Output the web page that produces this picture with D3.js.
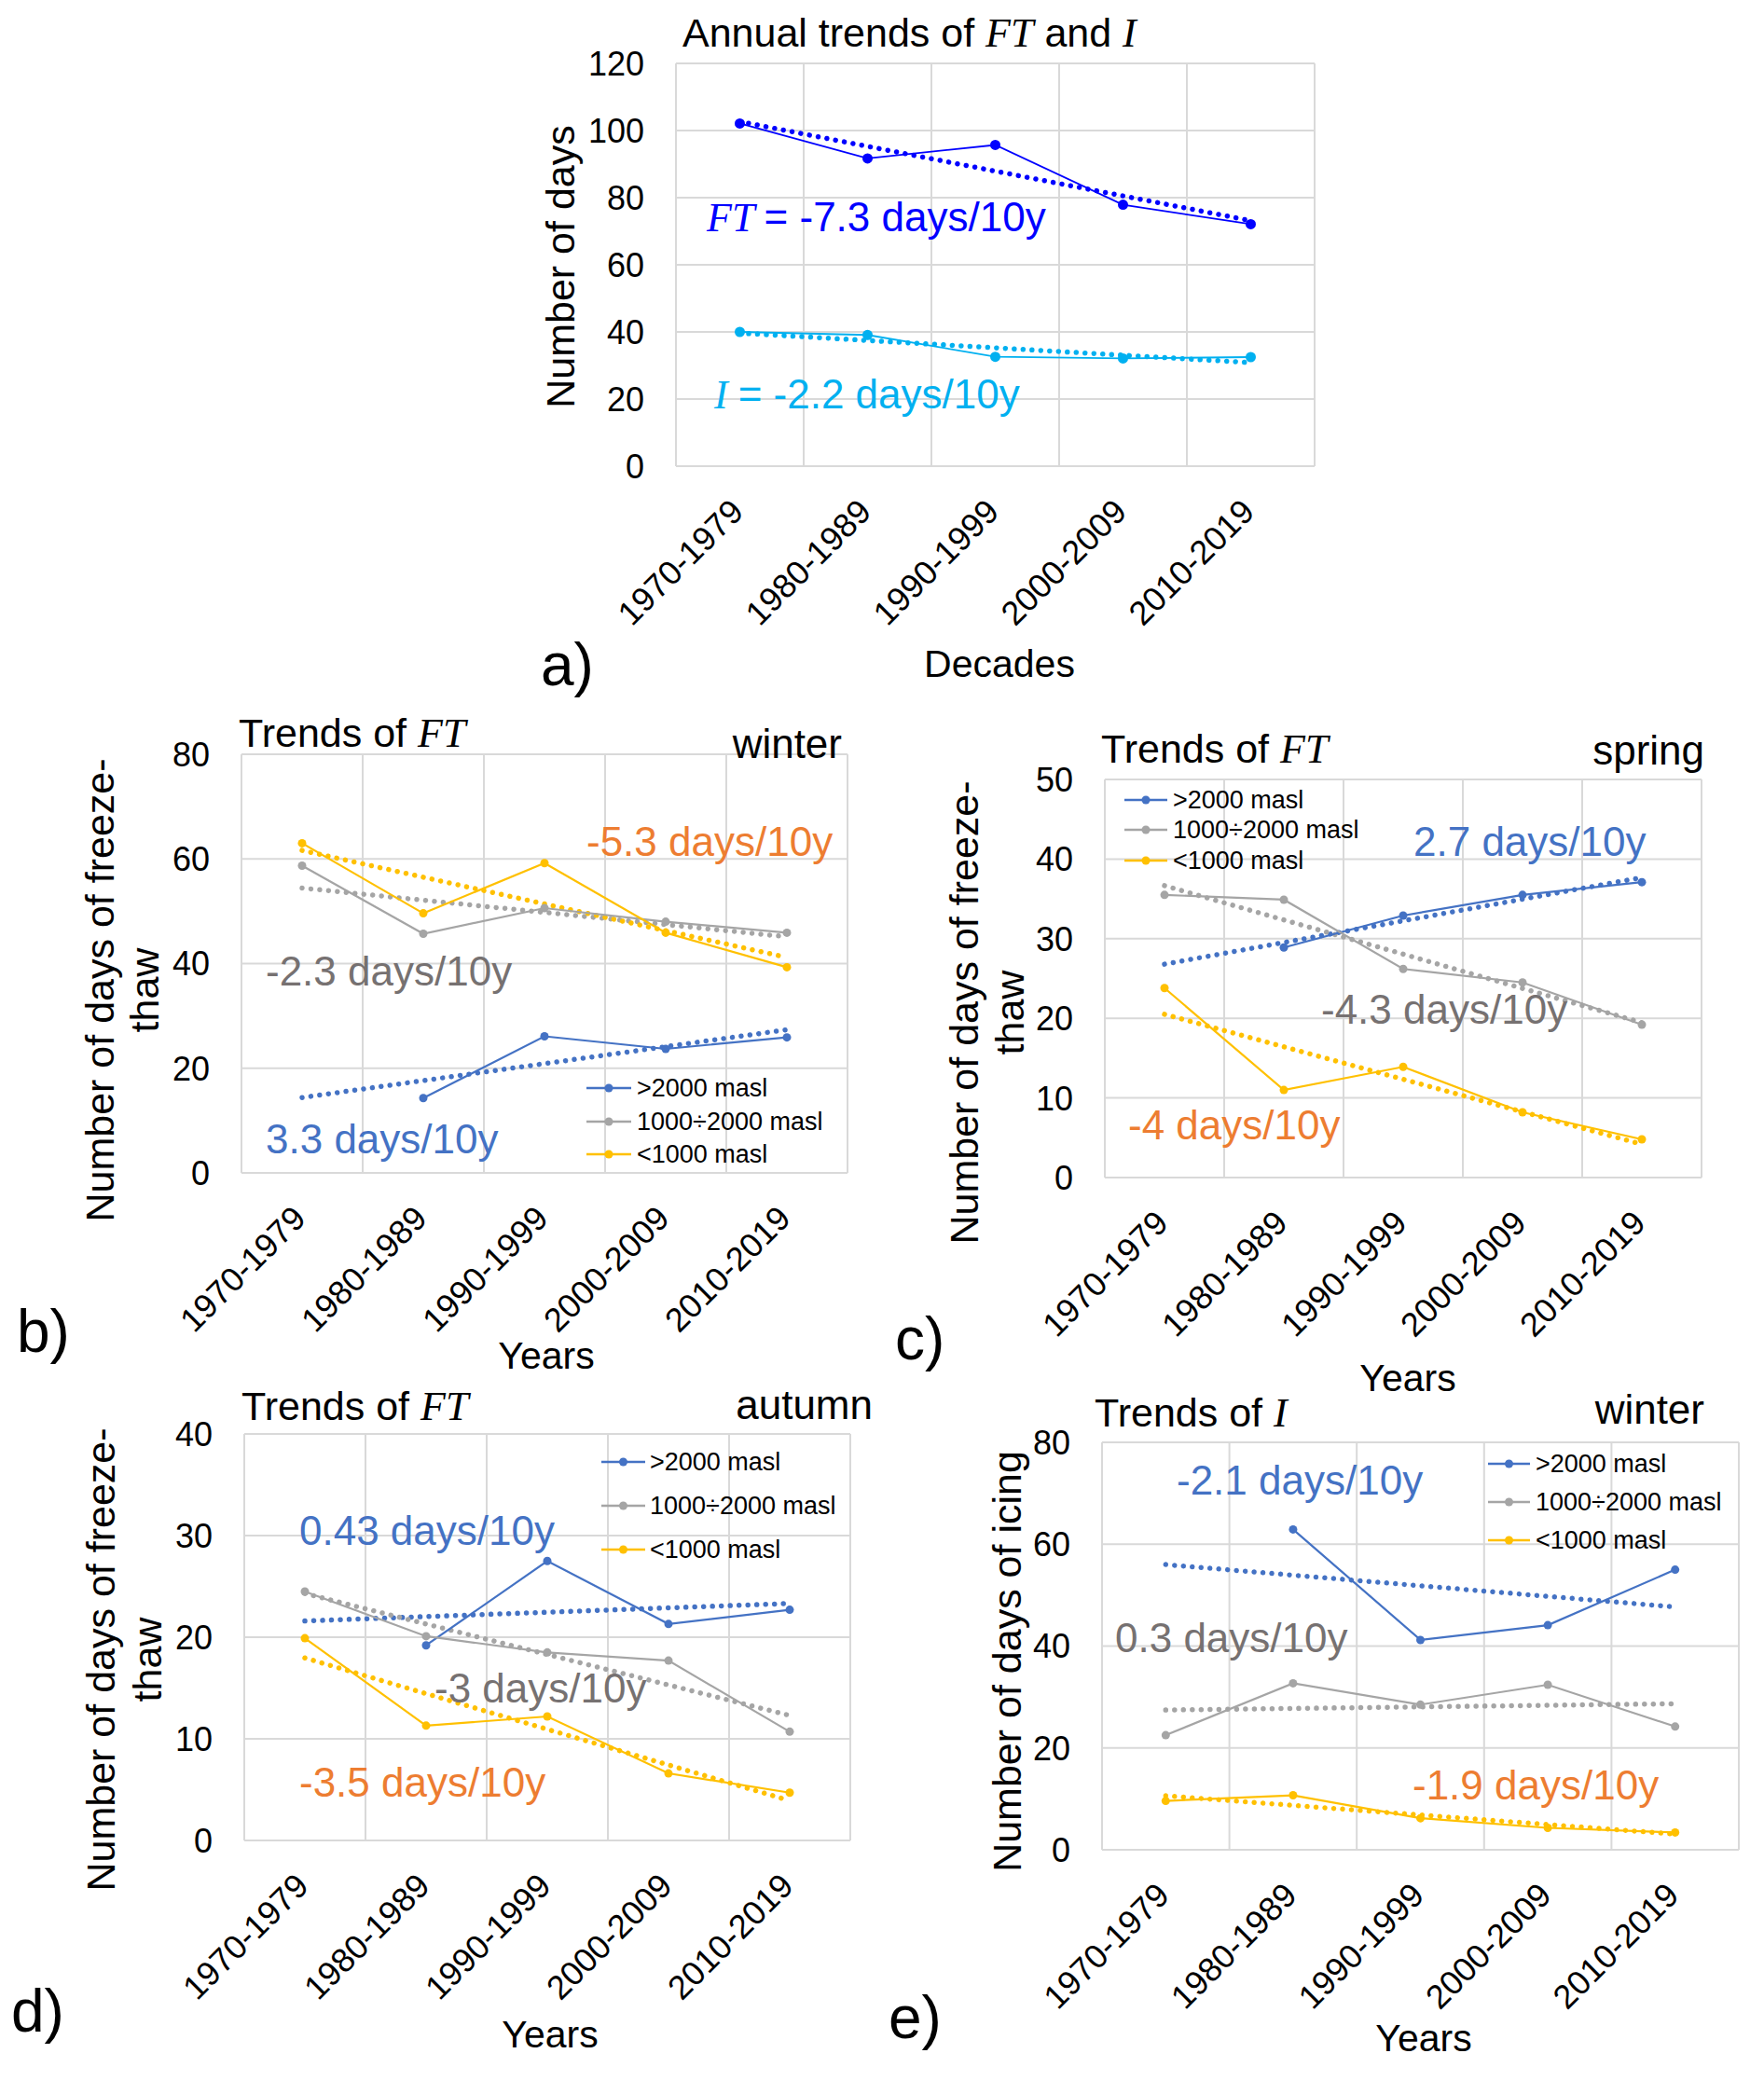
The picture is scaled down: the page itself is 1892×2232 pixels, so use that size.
<!DOCTYPE html>
<meta charset="utf-8">
<title>Trends of FT and I</title>
<style>
  body { margin: 0; background: #fff; }
  text { font-family: "Liberation Sans", Arial, sans-serif; fill: #000; }
  .it { font-family: "Liberation Serif", "Times New Roman", serif; font-style: italic; }
</style>
<body>
<script src="https://cdn.jsdelivr.net/npm/d3@7/dist/d3.min.js"></script>
<script>

// ---- data ----
var decades = ['1970-1979', '1980-1989', '1990-1999', '2000-2009', '2010-2019'];
var bands = ['>2000 masl', '1000\u00f72000 masl', '<1000 masl'];

// a) annual
var annualFT = [102.1, 91.7, 95.7, 77.9, 72.1];
var annualI  = [40.0, 39.1, 32.6, 32.1, 32.5];

// b) FT winter
var winterFT_high = [null, 14.3, 26.1, 23.7, 25.9];
var winterFT_mid  = [58.7, 45.7, 50.6, 48.0, 45.9];
var winterFT_low  = [63.0, 49.6, 59.2, 45.9, 39.3];

// c) FT spring
var springFT_high = [null, 28.9, 32.9, 35.5, 37.1];
var springFT_mid  = [35.5, 34.9, 26.2, 24.5, 19.2];
var springFT_low  = [23.8, 11.0, 13.9, 8.2, 4.8];

// d) FT autumn
var autumnFT_high = [null, 19.2, 27.5, 21.3, 22.7];
var autumnFT_mid  = [24.5, 20.1, 18.5, 17.7, 10.7];
var autumnFT_low  = [19.9, 11.3, 12.2, 6.6, 4.7];

// e) I winter
var winterI_high = [null, 62.9, 41.2, 44.1, 55.0];
var winterI_mid  = [22.5, 32.7, 28.5, 32.4, 24.2];
var winterI_low  = [9.6, 10.7, 6.2, 4.3, 3.4];

var trendTexts = {
  a: ['= -7.3 days/10y', '= -2.2 days/10y'],
  b: ['3.3 days/10y', '-2.3 days/10y', '-5.3 days/10y'],
  c: ['2.7 days/10y', '-4.3 days/10y', '-4 days/10y'],
  d: ['0.43 days/10y', '-3 days/10y', '-3.5 days/10y'],
  e: ['-2.1 days/10y', '0.3 days/10y', '-1.9 days/10y']
};

var BLUE = '#4472C4', GRAY = '#A5A5A5', YEL = '#FFC000';
var TXT_GRAY = '#767171', TXT_ORANGE = '#ED7D31';

var svg = d3.select('body').append('svg')
  .attr('width', 1892).attr('height', 2232)
  .style('background', '#fff');

// least squares over the defined points, evaluated at every decade
function fit(vals) {
  var pts = vals.map(function(v, i) { return [i, v]; }).filter(function(p) { return p[1] != null; });
  var mx = d3.mean(pts, function(p) { return p[0]; }), my = d3.mean(pts, function(p) { return p[1]; });
  var num = d3.sum(pts, function(p) { return (p[0] - mx) * (p[1] - my); });
  var den = d3.sum(pts, function(p) { return (p[0] - mx) * (p[0] - mx); });
  var b = num / den;
  return vals.map(function(v, i) { return my + b * (i - mx); });
}

function panel(p) {
  var g = svg.append('g');
  var x = d3.scaleBand().domain(decades).range([p.x0, p.x1]);
  var y = d3.scaleLinear().domain([0, p.yMax]).range([p.y1, p.y0]);
  var cx = function(i) { return x(decades[i]) + x.bandwidth() / 2; };
  var ticks = d3.range(0, p.yMax + 0.001, p.step);

  // grid
  g.selectAll('.hg').data(ticks).enter().append('line')
    .attr('x1', p.x0).attr('x2', p.x1)
    .attr('y1', function(d) { return y(d); }).attr('y2', function(d) { return y(d); })
    .attr('stroke', '#d9d9d9').attr('stroke-width', 2);
  g.selectAll('.vg').data(decades.map(function(d) { return x(d); }).concat([p.x1])).enter().append('line')
    .attr('x1', function(d) { return d; }).attr('x2', function(d) { return d; })
    .attr('y1', p.y0).attr('y2', p.y1)
    .attr('stroke', '#d9d9d9').attr('stroke-width', 2);

  // y tick labels
  g.selectAll('.yt').data(ticks).enter().append('text')
    .attr('x', p.x0 - 34).attr('y', function(d) { return y(d); })
    .attr('dy', '0.36em').attr('text-anchor', 'end')
    .style('font-size', '36px').text(function(d) { return d; });

  // x tick labels
  g.selectAll('.xt').data(decades).enter().append('text')
    .attr('transform', function(d, i) { return 'translate(' + (cx(i) - 3) + ',' + (p.y1 + 42) + ') rotate(-45)'; })
    .attr('text-anchor', 'end').attr('dy', '0.35em')
    .style('font-size', '36px').text(function(d) { return d; });

  // trends (round dots) then series
  p.series.forEach(function(s) {
    var t = fit(s.values);
    g.append('path')
      .attr('d', d3.line().x(function(d, i) { return cx(i); }).y(function(d) { return y(d); })(t))
      .attr('fill', 'none').attr('stroke', s.color).attr('stroke-width', 5.5)
      .attr('stroke-linecap', 'round').attr('stroke-dasharray', '0.01,9.5');
  });
  p.series.forEach(function(s) {
    var line = d3.line().defined(function(d) { return d != null; })
      .x(function(d, i) { return cx(i); }).y(function(d) { return y(d); });
    g.append('path').attr('d', line(s.values))
      .attr('fill', 'none').attr('stroke', s.color).attr('stroke-width', p.lineW);
    g.selectAll(null).data(s.values.map(function(v, i) { return {v: v, i: i}; }).filter(function(d) { return d.v != null; }))
      .enter().append('circle')
      .attr('cx', function(d) { return cx(d.i); }).attr('cy', function(d) { return y(d.v); })
      .attr('r', p.r).attr('fill', s.color);
  });

  // title
  var tt = g.append('text').attr('x', p.title[0]).attr('y', p.title[1]).style('font-size', '43px');
  tt.append('tspan').text(p.titleA);
  tt.append('tspan').attr('class', 'it').style('font-size', '44px').text(p.titleB);
  if (p.titleC) {
    tt.append('tspan').text(p.titleC);
    tt.append('tspan').attr('class', 'it').style('font-size', '44px').text(p.titleD);
  }
  if (p.season) {
    g.append('text').attr('x', p.season[0]).attr('y', p.season[1]).attr('text-anchor', 'end')
      .style('font-size', '44px').text(p.season[2]);
  }

  // annotations
  p.notes.forEach(function(n) {
    var t = g.append('text').attr('x', n.x).attr('y', n.y).style('font-size', '44px').style('fill', n.color);
    if (n.sym) t.append('tspan').attr('class', 'it').style('fill', n.color).text(n.sym + ' ');
    t.append('tspan').style('fill', n.color).text(n.text);
  });

  // legend
  if (p.legend) {
    p.series.forEach(function(s, i) {
      var ly = p.legend.rows[i];
      g.append('line').attr('x1', p.legend.x0).attr('x2', p.legend.x1).attr('y1', ly).attr('y2', ly)
        .attr('stroke', s.color).attr('stroke-width', 2.5);
      g.append('circle').attr('cx', (p.legend.x0 + p.legend.x1) / 2).attr('cy', ly).attr('r', 4.5).attr('fill', s.color);
      g.append('text').attr('x', p.legend.tx).attr('y', ly).attr('dy', '0.35em')
        .style('font-size', '27px').text(s.name);
    });
  }

  // y axis title
  p.yLabel.forEach(function(l) {
    g.append('text').attr('transform', 'translate(' + l.x + ',' + p.yLabelY + ') rotate(-90)')
      .attr('text-anchor', 'middle').attr('dy', '0.35em').style('font-size', '43px').text(l.t);
  });

  // x axis title and panel letter
  g.append('text').attr('x', p.xTitle[0]).attr('y', p.xTitle[1]).attr('text-anchor', 'middle')
    .style('font-size', '41px').text(p.xTitle[2]);
  g.append('text').attr('x', p.letter[0]).attr('y', p.letter[1])
    .style('font-size', '64px').text(p.letter[2]);
}

function three(h, m, l) {
  return [
    {name: bands[0], values: h, color: BLUE},
    {name: bands[1], values: m, color: GRAY},
    {name: bands[2], values: l, color: YEL}
  ];
}

var FTlabel = function(a, b) { return [{x: a, t: 'Number of days of freeze-'}, {x: b, t: 'thaw'}]; };

// a)
panel({
  x0: 725, x1: 1410, y0: 68, y1: 500, yMax: 120, step: 20,
  lineW: 1.8, r: 5.5,
  series: [{name: 'FT', values: annualFT, color: '#0000FF'}, {name: 'I', values: annualI, color: '#00B0F0'}],
  title: [732, 50], titleA: 'Annual trends of ', titleB: 'FT', titleC: ' and ', titleD: 'I',
  notes: [
    {x: 758, y: 248, sym: 'FT', text: trendTexts.a[0], color: '#0000FF'},
    {x: 766, y: 438, sym: 'I', text: trendTexts.a[1], color: '#00B0F0'}
  ],
  yLabel: [{x: 601, t: 'Number of days'}], yLabelY: 286,
  xTitle: [1072, 726, 'Decades'], letter: [580, 735, 'a)']
});

// b)
panel({
  x0: 259, x1: 909, y0: 809, y1: 1258, yMax: 80, step: 20,
  lineW: 2.2, r: 4.5,
  series: three(winterFT_high, winterFT_mid, winterFT_low),
  title: [256, 801], titleA: 'Trends of ', titleB: 'FT', season: [903, 813, 'winter'],
  notes: [
    {x: 285, y: 1237, text: trendTexts.b[0], color: BLUE},
    {x: 285, y: 1057, text: trendTexts.b[1], color: TXT_GRAY},
    {x: 629, y: 918, text: trendTexts.b[2], color: TXT_ORANGE}
  ],
  legend: {x0: 629, x1: 677, tx: 683, rows: [1167, 1203, 1238]},
  yLabel: FTlabel(107, 155), yLabelY: 1062,
  xTitle: [586, 1468, 'Years'], letter: [18, 1450, 'b)']
});

// c)
panel({
  x0: 1185, x1: 1825, y0: 836, y1: 1263, yMax: 50, step: 10,
  lineW: 2.2, r: 4.5,
  series: three(springFT_high, springFT_mid, springFT_low),
  title: [1181, 818], titleA: 'Trends of ', titleB: 'FT', season: [1828, 820, 'spring'],
  notes: [
    {x: 1516, y: 918, text: trendTexts.c[0], color: BLUE},
    {x: 1417, y: 1098, text: trendTexts.c[1], color: TXT_GRAY},
    {x: 1210, y: 1222, text: trendTexts.c[2], color: TXT_ORANGE}
  ],
  legend: {x0: 1206, x1: 1252, tx: 1258, rows: [858, 890, 923]},
  yLabel: FTlabel(1034, 1083), yLabelY: 1086,
  xTitle: [1510, 1492, 'Years'], letter: [960, 1458, 'c)']
});

// d)
panel({
  x0: 262, x1: 912, y0: 1538, y1: 1974, yMax: 40, step: 10,
  lineW: 2.2, r: 4.5,
  series: three(autumnFT_high, autumnFT_mid, autumnFT_low),
  title: [259, 1523], titleA: 'Trends of ', titleB: 'FT', season: [936, 1522, 'autumn'],
  notes: [
    {x: 321, y: 1657, text: trendTexts.d[0], color: BLUE},
    {x: 466, y: 1826, text: trendTexts.d[1], color: TXT_GRAY},
    {x: 321, y: 1927, text: trendTexts.d[2], color: TXT_ORANGE}
  ],
  legend: {x0: 645, x1: 692, tx: 697, rows: [1568, 1615, 1662]},
  yLabel: FTlabel(108, 158), yLabelY: 1780,
  xTitle: [590, 2196, 'Years'], letter: [12, 2179, 'd)']
});

// e)
panel({
  x0: 1182, x1: 1865, y0: 1547, y1: 1984, yMax: 80, step: 20,
  lineW: 2.2, r: 4.5,
  series: three(winterI_high, winterI_mid, winterI_low),
  title: [1174, 1530], titleA: 'Trends of ', titleB: 'I', season: [1828, 1527, 'winter'],
  notes: [
    {x: 1262, y: 1603, text: trendTexts.e[0], color: BLUE},
    {x: 1196, y: 1772, text: trendTexts.e[1], color: TXT_GRAY},
    {x: 1515, y: 1930, text: trendTexts.e[2], color: TXT_ORANGE}
  ],
  legend: {x0: 1596, x1: 1641, tx: 1647, rows: [1570, 1611, 1652]},
  yLabel: [{x: 1080, t: 'Number of days of icing'}], yLabelY: 1782,
  xTitle: [1527, 2200, 'Years'], letter: [953, 2186, 'e)']
});

</script>
</body>
